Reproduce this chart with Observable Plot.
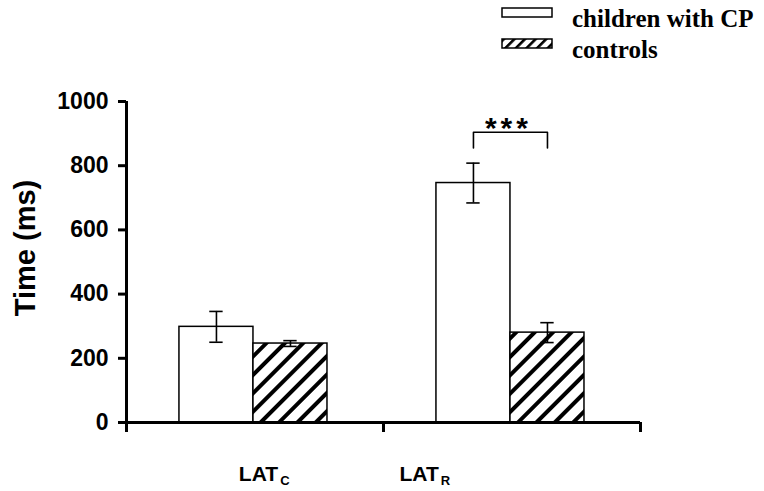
<!DOCTYPE html>
<html>
<head>
<meta charset="utf-8">
<script src="https://cdn.jsdelivr.net/npm/d3@7"></script>
<script src="https://cdn.jsdelivr.net/npm/@observablehq/plot@0.6"></script>
<style>
  html, body { margin: 0; padding: 0; background: #fff; }
  #chart { width: 764px; height: 491px; }
</style>
</head>
<body>
<div id="chart"></div>
<script>
// Response latencies (ms): mean ± error per group
const groupBase = ["LAT", "LAT"];
const groupSub = ["C", "R"];
const series = ["children with CP", "controls"];
const meanCP = [298, 746];
const errCP = [48, 62];
const meanControls = [246, 280];
const errControls = [9, 31];
const yTicks = [0, 200, 400, 600, 800, 1000];
const significance = "***"; // CP vs controls on LAT_R

// Layout within each group slot (x units: one group per unit)
const groupPad = 0.206;
const barW = 0.288;
const capHalf = 0.026;
const labelEnd = [0.59, 1.215]; // category label anchor per group

const rows = [];
groupSub.forEach((sub, g) => {
  [[meanCP, errCP], [meanControls, errControls]].forEach(([m, e], s) => {
    const x1 = g + groupPad + s * barW;
    rows.push({g, s, mean: m[g], err: e[g], x1, x2: x1 + barW, xc: x1 + barW / 2});
  });
});

// Significance bracket over the LAT_R pair
const sigRows = rows.filter(d => d.g === 1);
const sigBase = d3.max(sigRows, d => d.mean + d.err);
const bracketTop = sigBase + 96;
const bracketLeg = sigBase + 47;
const bracketX1 = sigRows[0].xc, bracketX2 = sigRows[1].xc;

const font = "'Liberation Sans', Arial, sans-serif";

const chart = Plot.plot({
  width: 764,
  height: 491,
  marginLeft: 126,
  marginRight: 124,
  marginTop: 101,
  marginBottom: 69,
  style: {background: "#fff", color: "#000", fontFamily: font},
  x: {domain: [0, 2], axis: null},
  y: {domain: [0, 1000], axis: null},
  marks: [
    // bars
    Plot.rectY(rows.filter(d => d.s === 0), {x1: "x1", x2: "x2", y: "mean", fill: "#fff", stroke: "#000", strokeWidth: 1.5}),
    Plot.rectY(rows.filter(d => d.s === 1), {x1: "x1", x2: "x2", y: "mean", fill: "url(#hatch)", stroke: "#000", strokeWidth: 1.5}),
    // error bars
    Plot.ruleX(rows, {x: "xc", y1: d => d.mean - d.err, y2: d => d.mean + d.err, stroke: "#000", strokeWidth: 1.6}),
    Plot.ruleY(rows, {y: d => d.mean + d.err, x1: d => d.xc - capHalf, x2: d => d.xc + capHalf, stroke: "#000", strokeWidth: 1.6}),
    Plot.ruleY(rows, {y: d => d.mean - d.err, x1: d => d.xc - capHalf, x2: d => d.xc + capHalf, stroke: "#000", strokeWidth: 1.6}),
    // significance bracket
    Plot.line([
      {x: bracketX1, y: bracketLeg}, {x: bracketX1, y: bracketTop},
      {x: bracketX2, y: bracketTop}, {x: bracketX2, y: bracketLeg}
    ], {x: "x", y: "y", stroke: "#000", strokeWidth: 1.6, curve: "linear"}),
    Plot.text([significance], {
      x: (bracketX1 + bracketX2) / 2, y: bracketTop, text: d => d,
      lineAnchor: "bottom", dy: 6, dx: -2, fontSize: 30, fontWeight: "bold", fontFamily: font
    }),
    Plot.text(["Time (ms)"], {
      frameAnchor: "left", textAnchor: "middle", dx: -101, dy: -14, rotate: -90,
      fontSize: 29, fontWeight: "bold", fontFamily: font
    }),
    // category labels with subscripts
    Plot.text(groupBase, {
      x: (d, i) => labelEnd[i], y: 0, text: d => d, textAnchor: "end",
      lineAnchor: "bottom", dy: 58, fontSize: 21, fontWeight: "bold", fontFamily: font
    }),
    Plot.text(groupSub, {
      x: (d, i) => labelEnd[i], y: 0, text: d => d, textAnchor: "start",
      lineAnchor: "bottom", dx: 2, dy: 62, fontSize: 13, fontWeight: "bold", fontFamily: font
    }),
    // axes: ticks and labels, baseline, y-axis line (running a little below zero), x ticks
    Plot.axisY({
      ticks: yTicks, tickSize: 8, tickPadding: 10, strokeWidth: 3,
      tickFormat: d => String(d), label: null,
      fontSize: 23, fontWeight: "bold", fontFamily: font
    }),
    Plot.ruleY([0], {stroke: "#000", strokeWidth: 3}),
    Plot.ruleX([1, 2], {y1: 0, y2: 0, insetBottom: -10, stroke: "#000", strokeWidth: 3}),
    Plot.ruleX([0], {y1: yTicks[yTicks.length - 1], y2: 0, insetBottom: -10, stroke: "#000", strokeWidth: 3})
  ]
});

const svg = d3.select(chart);

// widen the spacing of the significance stars
svg.selectAll("text").filter(function () { return this.textContent === significance; })
  .attr("letter-spacing", 4);

const defs = svg.append("defs");
function hatch(id, size, width) {
  const p = defs.append("pattern")
    .attr("id", id)
    .attr("patternUnits", "userSpaceOnUse")
    .attr("width", size).attr("height", size)
    .attr("patternTransform", "rotate(45)");
  p.append("rect").attr("width", size).attr("height", size).attr("fill", "#fff");
  p.append("rect").attr("width", width).attr("height", size).attr("fill", "#000");
}
hatch("hatch", 13, 4);
hatch("hatch-key", 7.5, 2.6);

// legend
const key = svg.append("g").attr("transform", "translate(502,8)").attr("text-anchor", "start");
series.forEach((name, i) => {
  const row = key.append("g").attr("transform", `translate(0,${i * 31})`);
  row.append("rect")
    .attr("width", 50).attr("height", 9)
    .attr("fill", i === 0 ? "#fff" : "url(#hatch-key)")
    .attr("stroke", "#000").attr("stroke-width", 1.5);
  row.append("text")
    .attr("x", 70).attr("y", 19)
    .attr("text-anchor", "start")
    .attr("font-family", "'Liberation Serif', 'Times New Roman', serif")
    .attr("font-weight", "bold")
    .attr("font-size", 25)
    .attr("fill", "#000")
    .text(name);
});

document.getElementById("chart").appendChild(chart);
</script>
</body>
</html>
